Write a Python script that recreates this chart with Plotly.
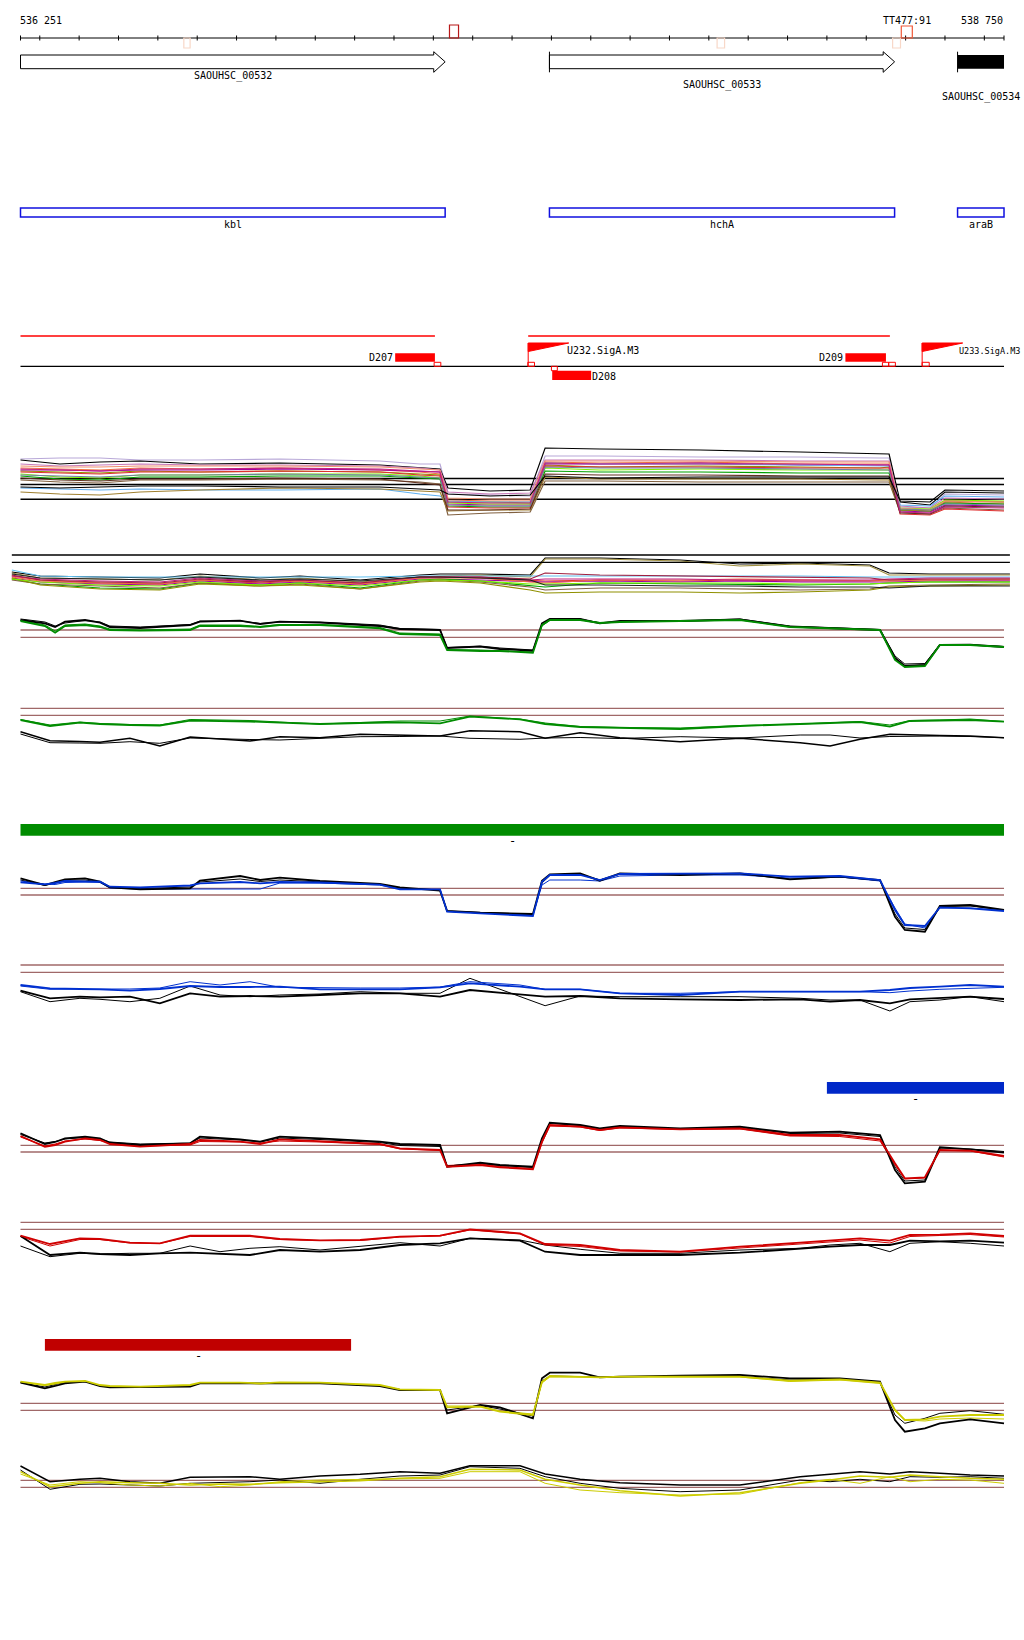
import plotly.graph_objects as go

# ---------------- genomic window / axis ----------------
WIN_START, WIN_END = 536251, 538750
TICKS = [536251] + list(range(536300, 538701, 100)) + [538750]
LEFT_LABEL, RIGHT_LABEL = "536 251", "538 750"

# ---------------- annotation tracks ----------------
GENE_NAMES = ["SAOUHSC_00532", "SAOUHSC_00533", "SAOUHSC_00534"]
GENE_START = [536251, 537595, 538632]
GENE_END = [537330, 538472, 538750]
GENE_KIND = ["arrow", "arrow", "box"]
GENE_LEFT_BAR = [False, True, True]

CDS_NAMES = ["kbl", "hchA", "araB"]
CDS_START = [536251, 537595, 538632]
CDS_END = [537330, 538472, 538750]

REGION_START = [536251, 537541]
REGION_END = [537304, 538460]

D_NAMES = ["D207", "D208", "D209"]
D_START = [537203, 537602, 538347]
D_END = [537304, 537701, 538450]
D_ROW = ["above", "below", "above"]

PROM_NAMES = ["U232.SigA.M3", "U233.SigA.M3"]
PROM_POS = [537541, 538542]

SITE_START = [537302, 537540, 538441, 538457, 538542, 537600]
SITE_END = [537319, 537557, 538457, 538474, 538560, 537615]
SITE_ROW = ["above", "above", "above", "above", "above", "below"]

MARK_START = [536666, 537341, 538021, 538467, 538489]
MARK_END = [536682, 537364, 538040, 538487, 538517]
MARK_KIND = ["pale", "dark", "pale", "pale", "bright"]
TERM_LABEL, TERM_POS = "TT477:91", 538503

GREEN_BAR = [536251, 538750]
BLUE_BAR = [538300, 538750]
RED_BAR = [536313, 537091]

# ---------------- panel A: many conditions ----------------
POS_A = [536251, 536351, 536453, 536555, 536707, 536910, 537164, 537266, 537317, 537337, 537444,
         537546, 537584, 537723, 537978, 538232, 538435, 538458, 538486, 538562, 538600, 538750]
A_LINES = [
    [6.1, 6.2, 6.2, 6.0, 6.0, 6.1, 5.9, 5.6, 5.6, 2.6, 2.5, 2.4, 6.4, 6.4, 6.3, 6.3, 6.2, 6.2, 1.3, 1.2, 2.6, 2.5],
    [6.0, 5.6, 5.8, 5.9, 5.6, 5.7, 5.5, 5.2, 5.1, 3.2, 2.9, 3.0, 7.2, 7.1, 7.0, 6.8, 6.6, 6.6, 1.8, 1.5, 2.8, 2.7],
    [5.6, 5.4, 5.5, 5.6, 5.5, 5.5, 5.4, 5.2, 5.0, 2.8, 2.6, 2.7, 6.0, 6.0, 6.0, 5.9, 5.9, 5.9, 1.4, 1.2, 2.2, 2.1],
    [5.2, 5.1, 5.0, 5.2, 5.1, 5.2, 5.0, 4.8, 4.6, 2.0, 1.9, 1.9, 5.8, 5.7, 5.8, 5.6, 5.6, 5.6, 1.0, 0.9, 1.8, 1.6],
    [4.9, 4.8, 4.7, 4.9, 4.8, 4.9, 4.8, 4.6, 4.5, 1.8, 1.8, 1.7, 5.5, 5.3, 5.4, 5.3, 5.2, 5.3, 1.1, 1.0, 1.9, 1.8],
    [5.0, 5.0, 4.9, 5.0, 5.0, 5.1, 5.0, 4.9, 4.8, 1.6, 1.5, 1.5, 5.6, 5.6, 5.7, 5.5, 5.5, 5.5, 0.9, 0.8, 1.5, 1.4],
    [4.6, 4.3, 4.2, 4.5, 4.5, 4.6, 4.6, 4.4, 4.2, 1.7, 1.6, 1.6, 5.2, 5.0, 5.1, 5.0, 5.0, 5.0, 1.2, 1.1, 2.0, 1.9],
    [4.4, 4.1, 4.0, 4.3, 4.3, 4.4, 4.4, 4.2, 4.1, 1.4, 1.3, 1.3, 4.9, 4.8, 4.8, 4.7, 4.7, 4.7, 1.0, 0.9, 1.7, 1.6],
    [4.0, 3.8, 3.7, 4.0, 4.0, 4.1, 4.0, 3.8, 3.6, 0.5, 0.7, 0.8, 3.9, 3.9, 3.8, 3.8, 3.8, 3.8, 0.8, 0.6, 1.2, 1.0],
    [3.2, 3.1, 3.0, 3.1, 3.0, 3.0, 3.1, 2.6, 2.4, 1.9, 1.8, 1.8, 5.7, 5.6, 5.6, 5.5, 5.4, 5.4, 1.5, 1.4, 2.4, 2.3],
    [2.8, 2.6, 2.5, 2.8, 3.0, 3.2, 3.1, 2.9, 2.8, 0.9, 1.0, 1.0, 4.3, 4.1, 4.1, 4.1, 4.0, 4.0, 1.0, 0.9, 1.9, 1.8],
    [4.8, 4.7, 4.6, 4.8, 4.8, 4.9, 4.8, 4.5, 4.4, 1.3, 1.2, 1.2, 5.4, 5.3, 5.3, 5.2, 5.2, 5.2, 0.6, 0.5, 1.1, 0.9],
    [5.4, 5.3, 5.3, 5.4, 5.4, 5.4, 5.3, 5.1, 5.0, 2.2, 2.1, 2.1, 5.9, 5.9, 5.9, 5.8, 5.8, 5.8, 1.2, 1.0, 1.9, 1.8],
    [4.2, 4.0, 3.9, 4.1, 4.1, 4.2, 4.1, 3.7, 3.5, 1.0, 1.0, 1.1, 4.6, 4.5, 4.5, 4.4, 4.4, 4.4, 0.7, 0.6, 1.4, 1.3],
    [4.5, 4.4, 4.3, 4.5, 4.5, 4.6, 4.5, 4.3, 4.2, 1.5, 1.4, 1.4, 5.3, 5.2, 5.2, 5.1, 5.0, 5.0, 1.1, 1.0, 1.6, 1.5],
    [5.1, 5.0, 4.9, 5.1, 5.1, 5.2, 5.1, 4.9, 4.8, 1.8, 1.7, 1.7, 5.7, 5.6, 5.6, 5.6, 5.5, 5.5, 0.8, 0.7, 1.3, 1.2],
    [3.3, 3.2, 3.3, 3.4, 3.4, 3.3, 3.3, 3.1, 3.0, 2.6, 2.4, 2.5, 4.4, 4.2, 4.3, 4.3, 4.3, 4.3, 1.9, 1.8, 3.0, 2.9],
]
A_COLORS = ["#b8a8d8", "#000000", "#c878b8", "#f07040", "#909000", "#a000a0", "#80f000", "#00a000",
            "#806040", "#60b0f0", "#a08030", "#e03030", "#f09070", "#603020", "#7080a0", "#c02080", "#000000"]
A_REF = [4.15, 3.55, 2.07]

# ---------------- panel B ----------------
POS_B = [536229, 536301, 536453, 536605, 536707, 536860, 536961, 537114, 537266, 537317, 537419,
         537546, 537584, 537723, 537927, 538079, 538232, 538409, 538458, 538562, 538765]
B_LINES = [
    [3.3, 2.9, 2.8, 2.7, 3.1, 2.7, 2.9, 2.5, 3.0, 3.1, 3.1, 3.0, 4.7, 4.7, 4.5, 4.1, 4.2, 4.0, 3.2, 3.1, 3.1],
    [3.2, 2.7, 2.6, 2.5, 2.9, 2.5, 2.7, 2.3, 2.8, 2.9, 3.0, 2.8, 4.6, 4.6, 4.4, 3.9, 4.1, 3.9, 3.0, 3.0, 3.0],
    [3.5, 2.9, 2.8, 2.8, 2.8, 2.8, 2.8, 2.8, 2.9, 2.9, 2.9, 2.9, 2.9, 2.9, 2.9, 2.9, 2.9, 2.8, 2.8, 2.8, 2.8],
    [2.9, 2.5, 2.2, 2.1, 2.5, 2.2, 2.4, 2.1, 2.7, 2.8, 2.7, 2.5, 2.4, 2.5, 2.4, 2.5, 2.4, 2.4, 2.5, 2.5, 2.5],
    [2.7, 2.3, 2.1, 2.0, 2.4, 2.1, 2.3, 2.0, 2.6, 2.6, 2.5, 2.3, 2.3, 2.4, 2.3, 2.4, 2.3, 2.3, 2.3, 2.4, 2.4],
    [2.6, 2.1, 1.7, 1.6, 2.2, 2.0, 2.2, 1.7, 2.5, 2.6, 2.4, 1.9, 1.8, 2.2, 2.1, 2.1, 2.0, 2.1, 2.2, 2.3, 2.3],
    [2.8, 2.4, 2.2, 2.1, 2.5, 2.3, 2.4, 2.1, 2.7, 2.7, 2.7, 2.3, 2.2, 2.5, 2.5, 2.6, 2.5, 2.4, 2.4, 2.5, 2.6],
    [2.5, 2.1, 1.9, 1.7, 2.2, 1.9, 2.1, 1.6, 2.4, 2.5, 2.3, 1.8, 1.5, 1.7, 1.7, 1.6, 1.5, 1.6, 1.9, 2.0, 2.1],
    [2.7, 2.0, 1.6, 1.5, 2.1, 1.9, 2.0, 1.6, 2.3, 2.4, 2.2, 1.5, 1.2, 1.3, 1.3, 1.2, 1.3, 1.5, 1.8, 1.9, 2.0],
    [2.9, 2.6, 2.4, 2.3, 2.7, 2.4, 2.5, 2.2, 2.8, 2.8, 2.8, 2.5, 2.6, 2.6, 2.6, 2.5, 2.5, 2.5, 2.6, 2.7, 2.7],
    [2.6, 2.3, 2.0, 1.9, 2.3, 2.0, 2.2, 1.9, 2.5, 2.5, 2.4, 2.1, 2.1, 2.2, 2.2, 2.2, 2.1, 2.1, 2.2, 2.3, 2.3],
    [3.0, 2.5, 2.3, 2.2, 2.6, 2.3, 2.5, 2.2, 2.8, 2.8, 2.8, 2.6, 3.2, 3.0, 2.9, 2.8, 2.8, 2.7, 2.5, 2.6, 2.6],
    [3.1, 2.7, 2.6, 2.5, 2.8, 2.5, 2.6, 2.4, 2.8, 2.8, 2.7, 2.5, 2.0, 2.0, 1.9, 1.9, 1.8, 1.8, 1.7, 1.9, 1.9],
]
B_COLORS = ["#000000", "#a09040", "#60c0f0", "#e03030", "#a000a0", "#00a000", "#f07040", "#806040",
            "#909000", "#c02080", "#80f000", "#a02040", "#202020"]
B_REF = [5.0, 4.27]

# ---------------- profile panels (C, E, G, I) ----------------
POS_P = [536251, 536313, 536339, 536364, 536415, 536453, 536478, 536555, 536682, 536707, 536809, 536860,
         536910, 537012, 537164, 537215, 537317, 537335, 537419, 537469, 537553, 537576, 537596, 537673,
         537723, 537774, 537927, 538079, 538206, 538333, 538435, 538473, 538498, 538549, 538587, 538664, 538750]
C_BLACK1 = [5.5, 5.17, 4.8, 5.33, 5.5, 5.23, 4.8, 4.7, 5.0, 5.33, 5.43, 5.1, 5.33, 5.23, 4.9, 4.6, 4.5, 2.7, 2.83, 2.6, 2.43,
            5.17, 5.6, 5.6, 5.17, 5.4, 5.4, 5.57, 4.83, 4.67, 4.5, 1.7, 0.9, 1.0, 3.0, 3.03, 2.8]
C_BLACK2 = [5.6, 5.3, 4.9, 5.2, 5.45, 5.3, 4.9, 4.8, 5.05, 5.4, 5.4, 5.15, 5.3, 5.3, 5.0, 4.65, 4.55, 2.75, 2.9, 2.7, 2.5,
            5.0, 5.55, 5.6, 5.2, 5.35, 5.4, 5.6, 4.9, 4.7, 4.55, 1.9, 1.1, 1.15, 3.05, 3.0, 2.85]
C_GREEN1 = [5.4, 4.9, 4.23, 4.9, 5.0, 4.8, 4.5, 4.43, 4.5, 4.9, 4.9, 4.8, 5.0, 5.0, 4.67, 4.1, 4.0, 2.5, 2.4, 2.4, 2.23,
            5.0, 5.5, 5.5, 5.2, 5.3, 5.4, 5.5, 4.8, 4.6, 4.5, 1.5, 0.8, 0.9, 3.0, 3.0, 2.8]
C_GREEN2 = [5.45, 5.0, 4.4, 5.0, 5.1, 4.9, 4.6, 4.5, 4.6, 5.0, 5.0, 4.85, 5.05, 5.05, 4.75, 4.2, 4.1, 2.55, 2.5, 2.45, 2.3,
            4.9, 5.45, 5.5, 5.25, 5.3, 5.4, 5.5, 4.85, 4.65, 4.5, 1.6, 0.9, 1.0, 3.05, 3.0, 2.85]
C_REF = [4.5, 3.77]

E_BLACK1 = [6.17, 5.5, 5.8, 6.07, 6.17, 5.83, 5.27, 5.07, 5.17, 5.93, 6.4, 6.0, 6.23, 5.9, 5.6, 5.27, 4.93, 2.9, 2.73, 2.7, 2.6,
            5.93, 6.57, 6.67, 5.93, 6.67, 6.5, 6.67, 6.07, 6.33, 6.0, 2.33, 1.0, 0.83, 3.4, 3.5, 3.0]
E_BLACK2 = [6.0, 5.45, 5.7, 6.0, 6.0, 5.8, 5.3, 5.15, 5.3, 5.8, 6.1, 5.85, 6.0, 5.8, 5.55, 5.2, 5.0, 2.85, 2.8, 2.7, 2.55,
            5.7, 6.45, 6.55, 6.0, 6.6, 6.55, 6.6, 6.1, 6.3, 5.95, 2.6, 1.2, 1.05, 3.35, 3.4, 3.0]
E_BLUE1 = [5.77, 5.57, 5.7, 5.9, 5.85, 5.83, 5.33, 5.27, 5.45, 5.67, 5.8, 5.67, 5.8, 5.75, 5.53, 5.07, 5.07, 2.83, 2.67, 2.55, 2.4,
           5.83, 6.5, 6.5, 6.0, 6.6, 6.6, 6.67, 6.33, 6.4, 6.0, 3.0, 1.5, 1.4, 3.27, 3.17, 2.9]
E_BLUE2 = [5.9, 5.6, 5.55, 5.75, 5.8, 5.75, 5.2, 5.1, 5.1, 5.1, 5.1, 5.1, 5.7, 5.7, 5.5, 5.1, 5.05, 2.9, 2.75, 2.6, 2.5,
           5.5, 6.0, 6.0, 5.9, 6.4, 6.5, 6.5, 6.2, 6.3, 5.9, 3.2, 1.6, 1.2, 3.2, 3.2, 2.95]
E_REF = [5.17, 4.5]

G_BLACK1 = [6.17, 5.1, 5.3, 5.67, 5.83, 5.67, 5.23, 5.0, 5.17, 5.83, 5.57, 5.33, 5.83, 5.67, 5.33, 5.1, 5.0, 2.83, 3.23, 3.0, 2.83,
            5.67, 7.23, 7.0, 6.67, 6.9, 6.67, 6.83, 6.23, 6.33, 6.0, 2.5, 1.17, 1.33, 4.77, 4.57, 4.23]
G_BLACK2 = [6.05, 5.2, 5.35, 5.6, 5.75, 5.6, 5.3, 5.1, 5.2, 5.7, 5.5, 5.3, 5.7, 5.55, 5.25, 4.95, 4.85, 2.9, 3.15, 2.95, 2.75,
            5.5, 7.15, 6.95, 6.6, 6.85, 6.6, 6.75, 6.15, 6.2, 5.85, 2.8, 1.4, 1.5, 4.7, 4.6, 4.35]
G_RED1 = [5.9, 4.83, 5.0, 5.33, 5.67, 5.5, 5.1, 4.83, 5.1, 5.5, 5.33, 5.1, 5.57, 5.4, 5.1, 4.67, 4.5, 2.83, 3.0, 2.77, 2.57,
          5.33, 7.0, 6.83, 6.5, 6.77, 6.57, 6.67, 6.0, 6.0, 5.57, 3.17, 1.67, 1.77, 4.5, 4.43, 3.9]
G_RED2 = [5.8, 4.9, 5.1, 5.4, 5.6, 5.45, 5.2, 4.9, 5.0, 5.35, 5.3, 5.2, 5.4, 5.3, 5.05, 4.6, 4.45, 2.95, 3.1, 2.85, 2.65,
          5.2, 6.9, 6.8, 6.45, 6.7, 6.55, 6.6, 5.9, 5.85, 5.4, 3.0, 1.6, 1.7, 4.45, 4.4, 3.8]
G_REF = [4.97, 4.3]

I_BLACK1 = [5.73, 5.17, 5.4, 5.67, 5.83, 5.4, 5.27, 5.27, 5.33, 5.67, 5.67, 5.6, 5.67, 5.67, 5.4, 5.0, 5.0, 2.67, 3.5, 3.27, 2.17,
            6.17, 6.73, 6.73, 6.27, 6.33, 6.43, 6.5, 6.17, 6.17, 5.83, 2.0, 0.83, 1.17, 1.67, 2.07, 1.67]
I_BLACK2 = [5.75, 5.3, 5.55, 5.75, 5.85, 5.45, 5.35, 5.3, 5.4, 5.7, 5.7, 5.65, 5.7, 5.7, 5.45, 5.05, 5.0, 3.0, 3.45, 3.1, 2.4,
            5.9, 6.4, 6.35, 6.3, 6.35, 6.35, 6.35, 6.0, 6.1, 5.75, 2.5, 1.67, 2.17, 2.67, 2.93, 2.57]
I_YEL1 = [5.83, 5.5, 5.7, 5.83, 5.9, 5.5, 5.4, 5.33, 5.5, 5.73, 5.73, 5.67, 5.77, 5.73, 5.5, 5.07, 5.0, 3.27, 3.33, 2.83, 2.5,
          5.83, 6.4, 6.33, 6.27, 6.33, 6.33, 6.33, 5.93, 6.07, 5.73, 3.0, 2.0, 2.07, 2.33, 2.5, 2.5]
I_YEL2 = [5.8, 5.45, 5.6, 5.8, 5.85, 5.45, 5.35, 5.3, 5.45, 5.7, 5.7, 5.6, 5.7, 5.7, 5.45, 5.0, 4.95, 3.4, 3.4, 2.9, 2.6,
          5.7, 6.3, 6.3, 6.25, 6.3, 6.3, 6.3, 5.85, 6.0, 5.65, 2.9, 2.0, 1.9, 2.1, 2.2, 2.1]
I_REF = [3.67, 2.97]

# ---------------- flat panels (D, F, H, J) ----------------
POS_F = [536251, 536326, 536402, 536453, 536529, 536605, 536682, 536758, 536834, 536910, 537012, 537114, 537215,
         537317, 537393, 537520, 537584, 537673, 537774, 537927, 538079, 538232, 538308, 538384, 538460, 538511,
         538587, 538664, 538750]
D_BLACK1 = [1.83, 0.93, 0.85, 0.77, 1.17, 0.4, 1.3, 1.1, 0.9, 1.33, 1.23, 1.57, 1.5, 1.4, 1.93, 1.83, 1.17, 1.73, 1.23, 0.83,
            1.17, 0.73, 0.4, 1.07, 1.57, 1.5, 1.45, 1.4, 1.23]
D_BLACK2 = [1.6, 0.73, 0.7, 0.67, 0.83, 0.67, 1.2, 1.1, 1.05, 1.0, 1.17, 1.33, 1.35, 1.4, 1.17, 1.07, 1.2, 1.25, 1.15, 1.33,
            1.2, 1.5, 1.5, 1.2, 1.35, 1.4, 1.4, 1.35, 1.23]
D_GREEN1 = [3.0, 2.4, 2.73, 2.6, 2.5, 2.45, 2.93, 2.9, 2.85, 2.73, 2.6, 2.7, 2.77, 2.67, 3.33, 3.07, 2.6, 2.3, 2.2, 2.1,
            2.4, 2.6, 2.7, 2.8, 2.33, 2.9, 2.95, 3.0, 2.83]
D_GREEN2 = [3.05, 2.5, 2.8, 2.65, 2.55, 2.5, 3.05, 3.0, 2.95, 2.8, 2.6, 2.75, 2.9, 2.9, 3.4, 3.1, 2.7, 2.35, 2.25, 2.2,
            2.45, 2.6, 2.75, 2.85, 2.5, 2.95, 3.0, 3.1, 2.85]
D_REF = [4.17, 3.47]

F_BLACK1 = [2.43, 1.67, 1.83, 1.77, 1.83, 1.17, 2.17, 1.83, 1.9, 1.83, 2.0, 2.17, 2.17, 1.83, 2.5, 2.1, 1.83, 1.9, 1.67, 1.57,
            1.5, 1.57, 1.33, 1.5, 1.17, 1.57, 1.67, 1.83, 1.6]
F_BLACK2 = [2.33, 1.33, 1.67, 1.57, 1.33, 1.67, 2.9, 2.0, 1.83, 2.0, 2.1, 2.33, 2.17, 2.17, 3.67, 1.83, 0.93, 1.9, 1.83, 1.83,
            1.83, 1.67, 1.5, 1.5, 0.4, 1.33, 1.5, 1.83, 1.33]
F_BLUE1 = [3.0, 2.67, 2.6, 2.57, 2.43, 2.6, 2.9, 2.8, 2.8, 2.83, 2.57, 2.6, 2.57, 2.77, 3.17, 2.83, 2.57, 2.57, 2.17, 2.0,
           2.33, 2.33, 2.33, 2.33, 2.5, 2.7, 2.83, 3.0, 2.83]
F_BLUE2 = [2.9, 2.57, 2.6, 2.6, 2.6, 2.7, 3.33, 3.0, 3.33, 2.77, 2.7, 2.7, 2.7, 2.8, 3.33, 3.0, 2.57, 2.57, 2.17, 2.17,
           2.33, 2.33, 2.33, 2.33, 2.23, 2.4, 2.57, 2.67, 2.77]
F_REF = [5.0, 4.27]

H_BLACK1 = [2.9, 1.0, 1.23, 1.1, 1.0, 1.17, 1.23, 1.1, 1.0, 1.5, 1.33, 1.5, 2.0, 2.17, 2.67, 2.43, 1.33, 1.0, 1.0, 1.0,
            1.23, 1.67, 1.83, 2.0, 2.0, 2.43, 2.37, 2.43, 2.23]
H_BLACK2 = [1.9, 0.83, 1.17, 1.1, 1.17, 1.17, 1.9, 1.33, 1.67, 1.83, 1.5, 1.83, 2.23, 1.9, 2.67, 2.5, 2.0, 1.57, 1.17, 1.17,
            1.5, 1.67, 2.0, 2.17, 1.33, 2.17, 2.33, 2.17, 1.9]
H_RED1 = [2.93, 2.1, 2.67, 2.6, 2.23, 2.17, 2.93, 2.93, 2.93, 2.6, 2.47, 2.5, 2.83, 2.93, 3.57, 3.17, 2.1, 2.0, 1.5, 1.33,
          1.83, 2.23, 2.43, 2.67, 2.43, 3.0, 3.03, 3.17, 2.9]
H_RED2 = [2.85, 1.9, 2.55, 2.55, 2.2, 2.15, 2.85, 2.85, 2.85, 2.55, 2.45, 2.45, 2.8, 2.9, 3.5, 3.1, 2.0, 1.85, 1.4, 1.3,
          1.7, 2.1, 2.3, 2.5, 2.2, 2.85, 2.95, 3.05, 2.8]
H_REF = [4.27, 3.57]

J_BLACK1 = [3.9, 2.33, 2.57, 2.67, 2.33, 2.17, 2.77, 2.83, 2.83, 2.57, 2.9, 3.07, 3.33, 3.17, 3.93, 3.93, 3.1, 2.57, 2.23, 2.0,
            2.0, 2.83, 3.1, 3.33, 3.1, 3.33, 3.17, 3.0, 2.9]
J_BLACK2 = [3.5, 1.57, 2.07, 2.1, 2.0, 1.9, 2.17, 2.23, 2.33, 2.5, 2.17, 2.57, 2.9, 3.0, 3.83, 3.67, 2.83, 2.17, 1.67, 1.33,
            1.5, 2.5, 2.33, 2.57, 2.33, 2.83, 2.77, 2.83, 2.67]
J_YEL1 = [3.33, 1.83, 2.17, 2.33, 2.23, 2.17, 2.0, 2.1, 2.07, 2.23, 2.33, 2.43, 2.67, 2.83, 3.57, 3.5, 2.57, 2.0, 1.43, 0.9,
          1.23, 2.17, 2.5, 2.9, 2.77, 3.0, 2.83, 2.67, 2.57]
J_YEL2 = [3.1, 2.0, 2.33, 2.23, 2.0, 1.9, 2.17, 1.83, 2.0, 2.33, 2.5, 2.57, 2.57, 2.67, 3.33, 3.33, 2.17, 1.5, 1.23, 1.0,
          1.1, 2.23, 2.57, 2.17, 2.83, 2.33, 2.57, 2.5, 2.17]
J_REF = [2.47, 1.77]

# ======================= layout / drawing =======================
W, H = 1024, 1640
PX_PER_BP = 0.39356
X0 = WIN_START - 20.5 / PX_PER_BP
X1 = X0 + W / PX_PER_BP
FONT = "DejaVu Sans Mono"
GREEN, BLUE, RED, YELLOW, REFC = "#008c00", "#0030d0", "#d00000", "#cccc00", "#a06868"

fig = go.Figure()
shapes, annos = [], []


def line(x0, x1, y0, y1, color="black", width=1):
    shapes.append(dict(type="line", xref="x", yref="y", x0=x0, x1=x1, y0=y0, y1=y1,
                       line=dict(color=color, width=width)))


def rect(x0, x1, y0, y1, fill=None, color=None, width=1):
    shapes.append(dict(type="rect", xref="x", yref="y", x0=x0, x1=x1, y0=y0, y1=y1,
                       fillcolor=fill if fill else "rgba(0,0,0,0)",
                       line=dict(color=color if color else "rgba(0,0,0,0)", width=width if color else 0)))


def text(x, y, s, anchor="center", size=10, color="black"):
    annos.append(dict(x=x, y=y, xref="x", yref="y", text=s, showarrow=False, xanchor=anchor,
                      yanchor="middle", borderpad=0, font=dict(family=FONT, size=size, color=color)))


# --- ruler ---
line(WIN_START, WIN_END, 38, 38)
for t in TICKS:
    line(t, t, 35.5, 40.5)
text(WIN_START - 4, 20, LEFT_LABEL, "left")
text(WIN_END, 20, RIGHT_LABEL, "right")
mark_style = {"pale": ("#f8d8c8", 38, 48), "dark": ("#b81818", 25, 38), "bright": ("#f05838", 26, 38)}
for s, e, k in zip(MARK_START, MARK_END, MARK_KIND):
    c, y0, y1 = mark_style[k]
    rect(s, e, y0, y1, color=c, width=1.2)
text(TERM_POS, 20, TERM_LABEL)

# --- genes ---
HEAD = 29
gene_label_y = [76, 85, 97]
for name, s, e, kind, bar, ly in zip(GENE_NAMES, GENE_START, GENE_END, GENE_KIND, GENE_LEFT_BAR, gene_label_y):
    if kind == "arrow":
        hs = e - HEAD
        shapes.append(dict(type="path", xref="x", yref="y",
                           path=f"M {s},55 L {hs},55 L {hs},51.7 L {e},61.8 L {hs},72.3 L {hs},68.7 L {s},68.7 Z",
                           fillcolor="white", line=dict(color="black", width=1)))
    else:
        rect(s, e, 55, 68.7, fill="black")
    if bar:
        line(s, s, 51.7, 72.3)
    text((s + e) / 2, ly, name)

# --- CDS boxes ---
for name, s, e in zip(CDS_NAMES, CDS_START, CDS_END):
    rect(s, e, 208, 217, color="#1010e0", width=1.5)
    text((s + e) / 2, 224.5, name)

# --- regulatory track ---
for s, e in zip(REGION_START, REGION_END):
    line(s, e, 336, 336, color="#ff0000", width=1.3)
line(WIN_START, WIN_END, 366.3, 366.3, width=1.3)
for name, s, e, row in zip(D_NAMES, D_START, D_END, D_ROW):
    if row == "above":
        rect(s, e, 353.3, 361.7, fill="#ff0000")
        text(s - 4, 357.7, name, "right")
    else:
        rect(s, e, 370.7, 380, fill="#ff0000")
        text(e, 376, name, "left")
FLAG_W = 103
for i, (name, p) in enumerate(zip(PROM_NAMES, PROM_POS)):
    line(p, p, 343, 366.3, color="#ff0000", width=1)
    shapes.append(dict(type="path", xref="x", yref="y", path=f"M {p},343 L {p + FLAG_W},343 L {p},351.5 Z",
                       fillcolor="#ff0000", line=dict(color="#ff0000", width=1)))
    if i == len(PROM_NAMES) - 1:
        text(p + FLAG_W - 12, 350.5, name, "left", size=8.5)   # last label squeezed to stay on the page
    else:
        text(p + FLAG_W - 6, 350.5, name, "left")
for s, e, row in zip(SITE_START, SITE_END, SITE_ROW):
    if row == "above":
        rect(s, e, 362.3, 366.3, color="#ff0000", width=1)
    else:
        rect(s, e, 366.3, 370.7, color="#ff0000", width=1)

# --- colored condition bars ---
for (s, e), c, y0 in [(GREEN_BAR, GREEN, 824), (BLUE_BAR, "#0028c8", 1082), (RED_BAR, "#c00000", 1339)]:
    rect(s, e, y0, y0 + 11.7, fill=c)
    text((s + e) / 2, y0 + 16.5, "-", size=12)

# --- data panels ---
PANELS = {  # axis: (top px, bottom px)
    "y2": (440, 520), "y3": (545, 605), "y4": (605, 675), "y5": (700, 750), "y6": (860, 940),
    "y7": (955, 1015), "y8": (1115, 1195), "y9": (1215, 1265), "y10": (1360, 1440), "y11": (1455, 1505),
}


def add_line(x, y, color, width, axis):
    fig.add_trace(go.Scatter(x=x, y=y, mode="lines", line=dict(color=color, width=width),
                             xaxis="x", yaxis=axis, hoverinfo="skip", showlegend=False))


def add_refs(vals, color, axis, x0=WIN_START, x1=WIN_END, width=1.3):
    for v in vals:
        add_line([x0, x1], [v, v], color, width, axis)


# A
add_refs(A_REF, "black", "y2", width=1.5)
for vals, c in zip(A_LINES, A_COLORS):
    add_line(POS_A, vals, c, 1.2, "y2")
# B
for vals, c in zip(B_LINES, B_COLORS):
    add_line(POS_B, vals, c, 1.2, "y3")
add_refs(B_REF, "black", "y3", x0=POS_B[0], x1=POS_B[-1], width=1.3)

profile_sets = [
    ("y4", C_REF, [(C_BLACK2, "black", 1), (C_GREEN2, GREEN, 1), (C_BLACK1, "black", 1.8), (C_GREEN1, GREEN, 1.8)], POS_P),
    ("y5", D_REF, [(D_BLACK2, "black", 1), (D_GREEN2, GREEN, 1), (D_BLACK1, "black", 1.5), (D_GREEN1, GREEN, 1.8)], POS_F),
    ("y6", E_REF, [(E_BLACK2, "black", 1), (E_BLUE2, BLUE, 1), (E_BLACK1, "black", 1.8), (E_BLUE1, BLUE, 1.8)], POS_P),
    ("y7", F_REF, [(F_BLACK2, "black", 1), (F_BLUE2, BLUE, 1), (F_BLACK1, "black", 1.8), (F_BLUE1, BLUE, 1.8)], POS_F),
    ("y8", G_REF, [(G_BLACK2, "black", 1), (G_RED2, RED, 1), (G_BLACK1, "black", 1.8), (G_RED1, RED, 1.8)], POS_P),
    ("y9", H_REF, [(H_BLACK2, "black", 1), (H_RED2, RED, 1), (H_BLACK1, "black", 1.8), (H_RED1, RED, 1.8)], POS_F),
    ("y10", I_REF, [(I_BLACK2, "black", 1), (I_YEL2, YELLOW, 1), (I_BLACK1, "black", 1.8), (I_YEL1, YELLOW, 1.8)], POS_P),
    ("y11", J_REF, [(J_BLACK2, "black", 1), (J_YEL2, YELLOW, 1), (J_BLACK1, "black", 1.5), (J_YEL1, YELLOW, 1.5)], POS_F),
]
for axis, refs, lines, pos in profile_sets:
    add_refs(refs, REFC, axis)
    for vals, c, w in lines:
        add_line(pos, vals, c, w, axis)

layout = dict(
    width=W, height=H, margin=dict(l=0, r=0, t=0, b=0),
    paper_bgcolor="white", plot_bgcolor="rgba(0,0,0,0)", showlegend=False,
    xaxis=dict(domain=[0, 1], range=[X0, X1], visible=False, fixedrange=True),
    yaxis=dict(domain=[0, 1], range=[H, 0], visible=False, fixedrange=True),
    shapes=shapes, annotations=annos,
)
for ax, (top, bot) in PANELS.items():
    key = "yaxis" + ax[1:]
    layout[key] = dict(domain=[1 - bot / H, 1 - top / H], range=[0, (bot - top) / 10], visible=False,
                       anchor="x", fixedrange=True)
fig.update_layout(**layout)

fig.write_html("out.html", config={"displayModeBar": False})
with open("out.html", "r", encoding="utf-8") as f:
    html = f.read()
html = html.replace("<head>", "<head><style>html,body{margin:0;padding:0;overflow:hidden;background:white}</style>", 1)
with open("out.html", "w", encoding="utf-8") as f:
    f.write(html)
